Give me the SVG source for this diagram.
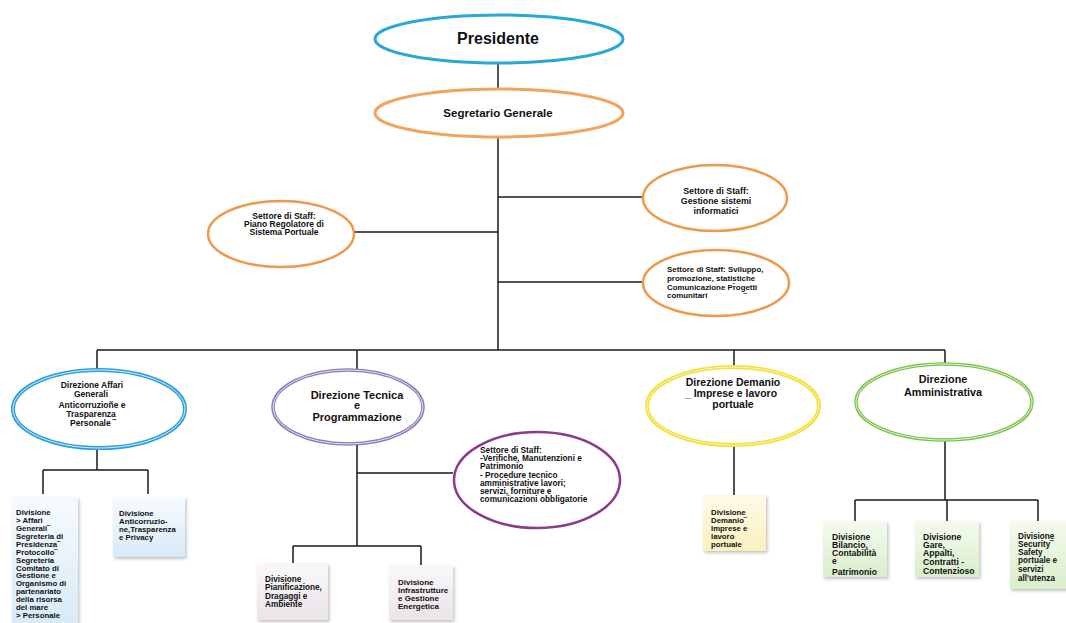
<svg xmlns="http://www.w3.org/2000/svg" width="1066" height="623" viewBox="0 0 1066 623">
<defs>
<style>
text{font-family:"Liberation Sans",Arial,sans-serif;font-weight:bold;fill:#111}
.c{text-anchor:middle}
.ln{stroke:#1a1a1a;stroke-width:1.5;fill:none}
.el{fill:#fff}
.box{filter:url(#sh)}
</style>
<linearGradient id="gB" x1="0" y1="0" x2="0" y2="1"><stop offset="0" stop-color="#f6fbfe"/><stop offset="1" stop-color="#d8eaf7"/></linearGradient>
<linearGradient id="gP" x1="0" y1="0" x2="0" y2="1"><stop offset="0" stop-color="#faf7f9"/><stop offset="1" stop-color="#ebe4e9"/></linearGradient>
<linearGradient id="gY" x1="0" y1="0" x2="0" y2="1"><stop offset="0" stop-color="#fffbe8"/><stop offset="1" stop-color="#f9f0bf"/></linearGradient>
<linearGradient id="gG" x1="0" y1="0" x2="0" y2="1"><stop offset="0" stop-color="#f5fbef"/><stop offset="1" stop-color="#d9eecb"/></linearGradient>
<filter id="sh" x="-20%" y="-20%" width="140%" height="140%"><feDropShadow dx="1.5" dy="2" stdDeviation="1.5" flood-color="#888" flood-opacity="0.5"/></filter>
</defs>
<rect width="1066" height="623" fill="#fff"/>

<g id="connectors">
<path class="ln" d="M498 63V90"/>
<path class="ln" d="M498 137V350"/>
<path class="ln" d="M354 232H498"/>
<path class="ln" d="M498 197H643"/>
<path class="ln" d="M498 282H642"/>
<path class="ln" d="M97 350H945"/>
<path class="ln" d="M97 350V370M357 350V370M734 350V367M945 350V363"/>
<path class="ln" d="M97 448V470M43 470H148M43 470V494M148 470V494"/>
<path class="ln" d="M357 443V546M357 473H453M293 546H421M293 546V563M421 546V565"/>
<path class="ln" d="M734 445V495"/>
<path class="ln" d="M945 440V500M855 500H1038M855 500V521M947 500V521M1038 500V521"/>
</g>

<g id="presidente">
<ellipse class="el" cx="499" cy="39" rx="124" ry="24" stroke="#27a9d8" stroke-width="3"/>
<text class="c" x="498" y="44" font-size="16">Presidente</text>
</g>

<g id="segretario">
<ellipse class="el" cx="499" cy="113" rx="124" ry="24" stroke="#f2a45c" stroke-width="3"/>
<text class="c" x="498" y="117" font-size="11.5">Segretario Generale</text>
</g>

<g id="staff-piano">
<ellipse class="el" cx="281" cy="234" rx="73" ry="33" stroke="#ee9a4a" stroke-width="2.5"/>
<text class="c" font-size="8.5"><tspan x="284" y="219">Settore di Staff:</tspan><tspan x="284" y="227">Piano Regolatore di</tspan><tspan x="284" y="235">Sistema Portuale</tspan></text>
</g>

<g id="staff-sistemi">
<ellipse class="el" cx="715" cy="198" rx="72" ry="33" stroke="#ee9a4a" stroke-width="2.5"/>
<text class="c" font-size="8.8"><tspan x="716" y="194">Settore di Staff:</tspan><tspan x="716" y="204">Gestione sistemi</tspan><tspan x="716" y="214">informatici</tspan></text>
</g>

<g id="staff-sviluppo">
<ellipse class="el" cx="716" cy="283" rx="73" ry="33" stroke="#ee9a4a" stroke-width="2.5"/>
<text font-size="7.9"><tspan x="667" y="272">Settore di Staff: Sviluppo,</tspan><tspan x="667" y="281">promozione, statistiche</tspan><tspan x="667" y="290">Comunicazione Pr̄ogetti</tspan><tspan x="667" y="298">comunitari</tspan></text>
<text x="744" y="299" font-size="8">‾</text>
</g>

<g id="dir-affari">
<ellipse class="el" cx="99" cy="409" rx="86" ry="39" stroke="#2d9fd9" stroke-width="4"/>
<ellipse cx="99" cy="409" rx="86" ry="39" fill="none" stroke="#d6edf9" stroke-width="1"/>
<text class="c" font-size="8.5"><tspan x="92" y="388">Direzione Affari</tspan><tspan x="91" y="397">Generali</tspan><tspan x="92" y="408">Anticorruzioñe e</tspan><tspan x="91" y="417">Trasparenza</tspan><tspan x="93" y="426">Personale ‾</tspan></text>
</g>

<g id="dir-tecnica">
<ellipse class="el" cx="348" cy="407" rx="75" ry="37" stroke="#8e7bb8" stroke-width="3.5"/>
<ellipse cx="348" cy="407" rx="75" ry="37" fill="none" stroke="#e6e0f0" stroke-width="1"/>
<text class="c" font-size="11"><tspan x="357" y="399">Direzione Tecnica</tspan><tspan x="357" y="409">e</tspan><tspan x="357" y="421">Programmazione</tspan></text>
</g>

<g id="staff-tecnica">
<ellipse class="el" cx="537" cy="480" rx="83" ry="48" stroke="#8b3c8c" stroke-width="2.5"/>
<text font-size="8.3"><tspan x="480" y="453">Settore di Staff:</tspan><tspan x="480" y="461">-Verifiche, Manutenzioni e</tspan><tspan x="480" y="469">Patrimonio</tspan><tspan x="480" y="478">- Procedure tecnico</tspan><tspan x="480" y="486">amministrative lavori;</tspan><tspan x="480" y="494">servizi, forniture e</tspan><tspan x="480" y="502">comunicazioni obbligatorie</tspan></text>
</g>

<g id="dir-demanio">
<ellipse class="el" cx="733" cy="406" rx="86" ry="39" stroke="#f3e03b" stroke-width="4"/>
<ellipse cx="733" cy="406" rx="86" ry="39" fill="none" stroke="#fbf4b8" stroke-width="1"/>
<text class="c" font-size="10.5"><tspan x="733" y="386">Direzione Demanio</tspan><tspan x="731" y="397">_ Imprese e lavoro</tspan><tspan x="733" y="408">portuale</tspan></text>
</g>

<g id="dir-amministrativa">
<ellipse class="el" cx="944" cy="402" rx="88" ry="38" stroke="#7dc24f" stroke-width="3.5"/>
<ellipse cx="944" cy="402" rx="88" ry="38" fill="none" stroke="#e0f1d4" stroke-width="1"/>
<text class="c" font-size="10.8"><tspan x="943" y="383">Direzione</tspan><tspan x="943" y="396">Amministrativa</tspan></text>
</g>

<g id="div-affari-generali">
<rect class="box" x="12" y="497" width="66" height="130" fill="url(#gB)"/>
<text font-size="7.8"><tspan x="16" y="515">Divisione</tspan><tspan x="16" y="523">&gt; Affari</tspan><tspan x="16" y="531">Generali‾</tspan><tspan x="16" y="539">Segreteria di</tspan><tspan x="16" y="547">Presidenza‾</tspan><tspan x="16" y="555">Protocollo‾</tspan><tspan x="16" y="563">Segreteria</tspan><tspan x="16" y="571">Comitato di</tspan><tspan x="16" y="578">Gestione e</tspan><tspan x="16" y="586">Organismo di</tspan><tspan x="16" y="594">partenariato</tspan><tspan x="16" y="602">della risorsa</tspan><tspan x="16" y="610">del mare</tspan><tspan x="16" y="618">&gt; Personale</tspan></text>
</g>

<g id="div-anticorruzione">
<rect class="box" x="113" y="497" width="72" height="60" fill="url(#gB)"/>
<text font-size="7.8"><tspan x="119" y="516">Divisione</tspan><tspan x="119" y="524">Anticorruzio-</tspan><tspan x="119" y="532">ne,Trasparenza</tspan><tspan x="119" y="540">e Privacy</tspan></text>
</g>

<g id="div-pianificazione">
<rect class="box" x="257" y="563" width="71" height="57" fill="url(#gP)"/>
<text font-size="8.2"><tspan x="265" y="582">Divisione</tspan><tspan x="265" y="590">Pianificazione,</tspan><tspan x="265" y="599">Dragaggi e</tspan><tspan x="265" y="607">Ambiente</tspan></text>
</g>

<g id="div-infrastrutture">
<rect class="box" x="389" y="565" width="64" height="55" fill="url(#gP)"/>
<text font-size="8"><tspan x="398" y="585">Divisione</tspan><tspan x="398" y="593">Infrastrutture</tspan><tspan x="398" y="601">e Gestione</tspan><tspan x="398" y="609">Energetica</tspan></text>
</g>

<g id="div-demanio">
<rect class="box" x="703" y="495" width="63" height="56" fill="url(#gY)"/>
<text font-size="7.8"><tspan x="711" y="515">Divisione</tspan><tspan x="711" y="523">Demanio‾</tspan><tspan x="711" y="531">Imprese e</tspan><tspan x="711" y="539">lavoro</tspan><tspan x="711" y="547">portuale</tspan></text>
</g>

<g id="div-bilancio">
<rect class="box" x="823" y="521" width="64" height="56" fill="url(#gG)"/>
<text font-size="8.6"><tspan x="832" y="540">Divisione</tspan><tspan x="832" y="548">Bilancio,</tspan><tspan x="832" y="556">Contabilità</tspan><tspan x="832" y="564">e</tspan><tspan x="832" y="575">Patrimonio</tspan></text>
</g>

<g id="div-gare">
<rect class="box" x="915" y="521" width="64" height="56" fill="url(#gG)"/>
<text font-size="8.6"><tspan x="923" y="540">Divisione</tspan><tspan x="923" y="548">Gare,</tspan><tspan x="923" y="556">Appalti,</tspan><tspan x="923" y="565">Contratti -</tspan><tspan x="923" y="574">Contenzioso</tspan></text>
</g>

<g id="div-security">
<rect class="box" x="1010" y="521" width="58" height="68" fill="url(#gG)"/>
<text font-size="8.2"><tspan x="1018" y="539">Divisione</tspan><tspan x="1018" y="547">Security‾</tspan><tspan x="1018" y="555">Safety</tspan><tspan x="1018" y="563">portuale e</tspan><tspan x="1018" y="572">servizi</tspan><tspan x="1018" y="581">all'utenza</tspan></text>
</g>
</svg>
